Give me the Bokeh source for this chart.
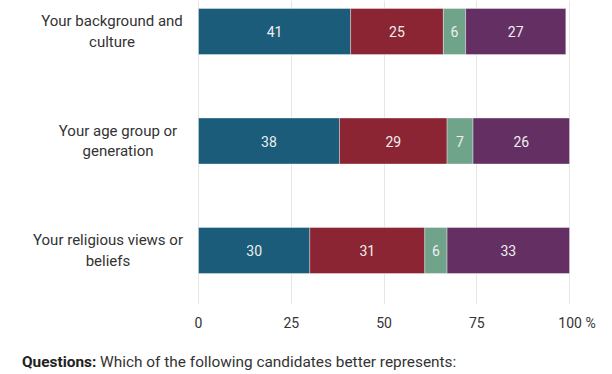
from bokeh.plotting import figure
from bokeh.models import ColumnDataSource, Range1d, FixedTicker, Div
from bokeh.layouts import column
from bokeh.core.properties import value
from bokeh.embed import file_html
from bokeh.resources import INLINE

categories = ["Your background and\nculture",
              "Your age group or\ngeneration",
              "Your religious views or\nbeliefs"]
series_names = ["s1", "s2", "s3", "s4"]
s1 = [41, 38, 30]
s2 = [25, 29, 31]
s3 = [6, 7, 6]
s4 = [27, 26, 33]
x_ticks = [0, 25, 50, 75, 100]
x_unit = "%"
colors = ["#1a5c7a", "#8b2533", "#6fa48b", "#643064"]
caption_bold = "Questions:"
caption_text = "Which of the following candidates better represents:"

FONT = "Roboto"
PX = 3.71                      # pixels per percentage point
X0 = 198                       # pixel of 0 %
label_centers_px = [111.5, 117.5, 107.5]   # layout: centre of each category label block

ypos = list(range(len(categories)))
source = ColumnDataSource(dict(y=ypos, s1=s1, s2=s2, s3=s3, s4=s4))

W, H = 612, 340
p = figure(width=W, height=H, output_backend="svg", toolbar_location=None,
           x_range=Range1d(-X0 / PX, (W - X0) / PX),
           y_range=Range1d(2.493, -0.283),
           min_border_left=0, min_border_right=0, min_border_top=0,
           min_border_bottom=36)
p.outline_line_color = None
p.yaxis.visible = False

p.hbar_stack(series_names, y="y", height=0.42, color=colors, source=source,
             line_color="white", line_alpha=0.35, line_width=1)

# segment labels
vals = [s1, s2, s3, s4]
lx, ly, lt = [], [], []
for i in range(len(categories)):
    cum = 0
    for s in vals:
        v = s[i]
        lx.append(cum + v / 2)
        ly.append(ypos[i])
        lt.append(str(v))
        cum += v
p.text(x=lx, y=ly, text=lt, text_align="center", text_baseline="middle",
       text_font=value(FONT), text_font_size="14px", text_color="#eeeeee")

# category labels (centred lines)
p.text(x=[(c - X0) / PX for c in label_centers_px], y=ypos, text=categories,
       text_align="center", text_baseline="middle", text_line_height=1.12,
       text_font=value(FONT), text_font_size="15px", text_color="#333333")

# x axis: tick labels, unit appended to last one
unit_shift = 7.5 / PX
axis_ticks = x_ticks[:-1] + [x_ticks[-1] + unit_shift]
p.xaxis.ticker = FixedTicker(ticks=axis_ticks)
p.xaxis.major_label_overrides = {axis_ticks[-1]: f"{x_ticks[-1]} {x_unit}"}
p.xaxis.axis_line_color = None
p.xaxis.major_tick_line_color = None
p.xaxis.minor_tick_line_color = None
p.xaxis.major_label_text_font = FONT
p.xaxis.major_label_text_font_size = "14px"
p.xaxis.major_label_text_color = "#333333"
p.xaxis.major_label_standoff = 4

p.xgrid.ticker = FixedTicker(ticks=x_ticks)
p.xgrid.grid_line_color = "#e6e6e6"
p.ygrid.grid_line_color = None

cap = Div(text=(f'<div style="padding:13px 0 0 22px; font-family:Roboto; '
                f'font-size:15.4px; line-height:18px; color:#333333; white-space:nowrap;">'
                f'<b style="color:#222222">{caption_bold}</b> {caption_text}</div>'),
          width=W, height=34, margin=0)

layout = column(p, cap, spacing=0)
open("out.html", "w").write(file_html(layout, INLINE))
